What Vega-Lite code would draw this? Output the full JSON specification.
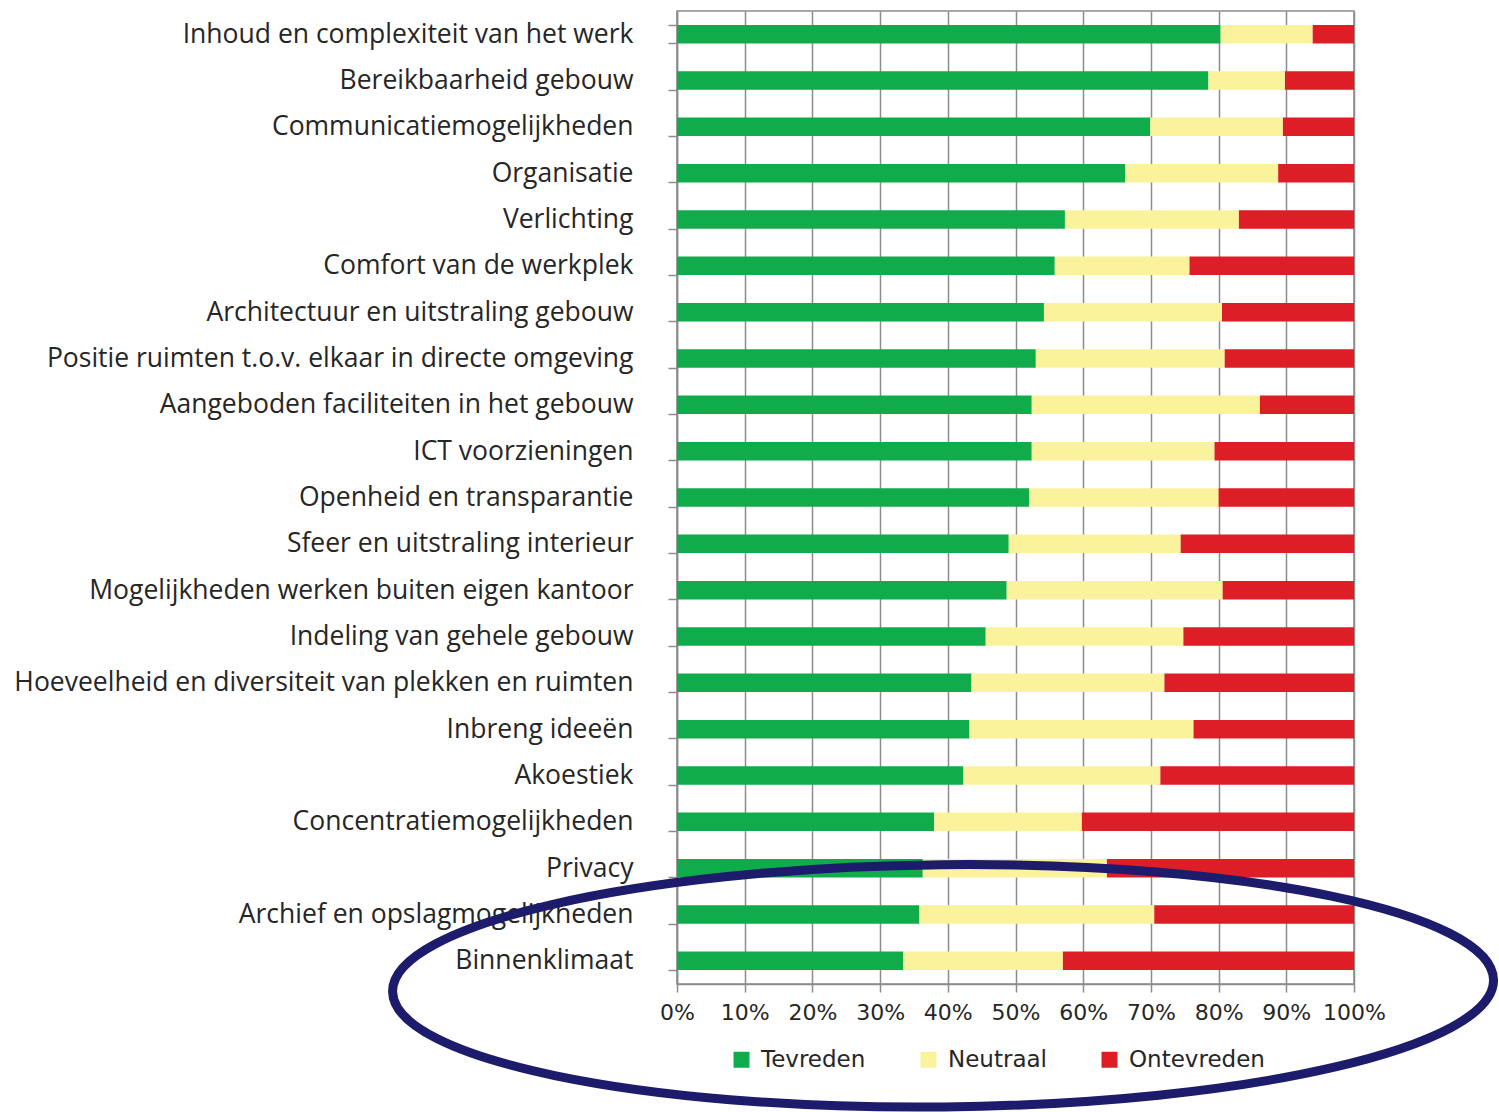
{
  "$schema": "https://vega.github.io/schema/vega-lite/v6.json",
  "width": 677,
  "height": 973,
  "autosize": {"type": "none"},
  "padding": {"left": 677, "top": 11, "right": 145, "bottom": 128},
  "background": "#ffffff",
  "config": {
    "view": {"stroke": "#8c8c8c", "strokeWidth": 1.5},
    "font": "DejaVu Sans"
  },
  "datasets": {
    "tevredenheid": [
      {"aspect": "Inhoud en complexiteit van het werk", "oordeel": "Tevreden", "rang": 1, "aandeel": 80.3},
      {"aspect": "Inhoud en complexiteit van het werk", "oordeel": "Neutraal", "rang": 2, "aandeel": 13.6},
      {"aspect": "Inhoud en complexiteit van het werk", "oordeel": "Ontevreden", "rang": 3, "aandeel": 6.1},
      {"aspect": "Bereikbaarheid gebouw", "oordeel": "Tevreden", "rang": 1, "aandeel": 78.5},
      {"aspect": "Bereikbaarheid gebouw", "oordeel": "Neutraal", "rang": 2, "aandeel": 11.3},
      {"aspect": "Bereikbaarheid gebouw", "oordeel": "Ontevreden", "rang": 3, "aandeel": 10.2},
      {"aspect": "Communicatiemogelijkheden", "oordeel": "Tevreden", "rang": 1, "aandeel": 69.9},
      {"aspect": "Communicatiemogelijkheden", "oordeel": "Neutraal", "rang": 2, "aandeel": 19.6},
      {"aspect": "Communicatiemogelijkheden", "oordeel": "Ontevreden", "rang": 3, "aandeel": 10.5},
      {"aspect": "Organisatie", "oordeel": "Tevreden", "rang": 1, "aandeel": 66.2},
      {"aspect": "Organisatie", "oordeel": "Neutraal", "rang": 2, "aandeel": 22.6},
      {"aspect": "Organisatie", "oordeel": "Ontevreden", "rang": 3, "aandeel": 11.2},
      {"aspect": "Verlichting", "oordeel": "Tevreden", "rang": 1, "aandeel": 57.3},
      {"aspect": "Verlichting", "oordeel": "Neutraal", "rang": 2, "aandeel": 25.7},
      {"aspect": "Verlichting", "oordeel": "Ontevreden", "rang": 3, "aandeel": 17.0},
      {"aspect": "Comfort van de werkplek", "oordeel": "Tevreden", "rang": 1, "aandeel": 55.8},
      {"aspect": "Comfort van de werkplek", "oordeel": "Neutraal", "rang": 2, "aandeel": 19.9},
      {"aspect": "Comfort van de werkplek", "oordeel": "Ontevreden", "rang": 3, "aandeel": 24.3},
      {"aspect": "Architectuur en uitstraling gebouw", "oordeel": "Tevreden", "rang": 1, "aandeel": 54.2},
      {"aspect": "Architectuur en uitstraling gebouw", "oordeel": "Neutraal", "rang": 2, "aandeel": 26.3},
      {"aspect": "Architectuur en uitstraling gebouw", "oordeel": "Ontevreden", "rang": 3, "aandeel": 19.5},
      {"aspect": "Positie ruimten t.o.v. elkaar in directe omgeving", "oordeel": "Tevreden", "rang": 1, "aandeel": 53.0},
      {"aspect": "Positie ruimten t.o.v. elkaar in directe omgeving", "oordeel": "Neutraal", "rang": 2, "aandeel": 27.9},
      {"aspect": "Positie ruimten t.o.v. elkaar in directe omgeving", "oordeel": "Ontevreden", "rang": 3, "aandeel": 19.1},
      {"aspect": "Aangeboden faciliteiten in het gebouw", "oordeel": "Tevreden", "rang": 1, "aandeel": 52.4},
      {"aspect": "Aangeboden faciliteiten in het gebouw", "oordeel": "Neutraal", "rang": 2, "aandeel": 33.7},
      {"aspect": "Aangeboden faciliteiten in het gebouw", "oordeel": "Ontevreden", "rang": 3, "aandeel": 13.9},
      {"aspect": "ICT voorzieningen", "oordeel": "Tevreden", "rang": 1, "aandeel": 52.4},
      {"aspect": "ICT voorzieningen", "oordeel": "Neutraal", "rang": 2, "aandeel": 27.0},
      {"aspect": "ICT voorzieningen", "oordeel": "Ontevreden", "rang": 3, "aandeel": 20.6},
      {"aspect": "Openheid en transparantie", "oordeel": "Tevreden", "rang": 1, "aandeel": 52.0},
      {"aspect": "Openheid en transparantie", "oordeel": "Neutraal", "rang": 2, "aandeel": 28.0},
      {"aspect": "Openheid en transparantie", "oordeel": "Ontevreden", "rang": 3, "aandeel": 20.0},
      {"aspect": "Sfeer en uitstraling interieur", "oordeel": "Tevreden", "rang": 1, "aandeel": 49.0},
      {"aspect": "Sfeer en uitstraling interieur", "oordeel": "Neutraal", "rang": 2, "aandeel": 25.4},
      {"aspect": "Sfeer en uitstraling interieur", "oordeel": "Ontevreden", "rang": 3, "aandeel": 25.6},
      {"aspect": "Mogelijkheden werken buiten eigen kantoor", "oordeel": "Tevreden", "rang": 1, "aandeel": 48.7},
      {"aspect": "Mogelijkheden werken buiten eigen kantoor", "oordeel": "Neutraal", "rang": 2, "aandeel": 31.9},
      {"aspect": "Mogelijkheden werken buiten eigen kantoor", "oordeel": "Ontevreden", "rang": 3, "aandeel": 19.4},
      {"aspect": "Indeling van gehele gebouw", "oordeel": "Tevreden", "rang": 1, "aandeel": 45.6},
      {"aspect": "Indeling van gehele gebouw", "oordeel": "Neutraal", "rang": 2, "aandeel": 29.2},
      {"aspect": "Indeling van gehele gebouw", "oordeel": "Ontevreden", "rang": 3, "aandeel": 25.2},
      {"aspect": "Hoeveelheid en diversiteit van plekken en ruimten", "oordeel": "Tevreden", "rang": 1, "aandeel": 43.5},
      {"aspect": "Hoeveelheid en diversiteit van plekken en ruimten", "oordeel": "Neutraal", "rang": 2, "aandeel": 28.5},
      {"aspect": "Hoeveelheid en diversiteit van plekken en ruimten", "oordeel": "Ontevreden", "rang": 3, "aandeel": 28.0},
      {"aspect": "Inbreng ideeën", "oordeel": "Tevreden", "rang": 1, "aandeel": 43.2},
      {"aspect": "Inbreng ideeën", "oordeel": "Neutraal", "rang": 2, "aandeel": 33.1},
      {"aspect": "Inbreng ideeën", "oordeel": "Ontevreden", "rang": 3, "aandeel": 23.7},
      {"aspect": "Akoestiek", "oordeel": "Tevreden", "rang": 1, "aandeel": 42.3},
      {"aspect": "Akoestiek", "oordeel": "Neutraal", "rang": 2, "aandeel": 29.1},
      {"aspect": "Akoestiek", "oordeel": "Ontevreden", "rang": 3, "aandeel": 28.6},
      {"aspect": "Concentratiemogelijkheden", "oordeel": "Tevreden", "rang": 1, "aandeel": 38.0},
      {"aspect": "Concentratiemogelijkheden", "oordeel": "Neutraal", "rang": 2, "aandeel": 21.8},
      {"aspect": "Concentratiemogelijkheden", "oordeel": "Ontevreden", "rang": 3, "aandeel": 40.2},
      {"aspect": "Privacy", "oordeel": "Tevreden", "rang": 1, "aandeel": 36.3},
      {"aspect": "Privacy", "oordeel": "Neutraal", "rang": 2, "aandeel": 27.2},
      {"aspect": "Privacy", "oordeel": "Ontevreden", "rang": 3, "aandeel": 36.5},
      {"aspect": "Archief en opslagmogelijkheden", "oordeel": "Tevreden", "rang": 1, "aandeel": 35.8},
      {"aspect": "Archief en opslagmogelijkheden", "oordeel": "Neutraal", "rang": 2, "aandeel": 34.7},
      {"aspect": "Archief en opslagmogelijkheden", "oordeel": "Ontevreden", "rang": 3, "aandeel": 29.5},
      {"aspect": "Binnenklimaat", "oordeel": "Tevreden", "rang": 1, "aandeel": 33.4},
      {"aspect": "Binnenklimaat", "oordeel": "Neutraal", "rang": 2, "aandeel": 23.6},
      {"aspect": "Binnenklimaat", "oordeel": "Ontevreden", "rang": 3, "aandeel": 43.0}
    ],
    "markering": [
      {"aspect": "Binnenklimaat", "midden": 0.393}
    ]
  },
  "encoding": {
    "y": {
      "field": "aspect",
      "type": "nominal",
      "scale": {
        "domain": [
          "Inhoud en complexiteit van het werk",
          "Bereikbaarheid gebouw",
          "Communicatiemogelijkheden",
          "Organisatie",
          "Verlichting",
          "Comfort van de werkplek",
          "Architectuur en uitstraling gebouw",
          "Positie ruimten t.o.v. elkaar in directe omgeving",
          "Aangeboden faciliteiten in het gebouw",
          "ICT voorzieningen",
          "Openheid en transparantie",
          "Sfeer en uitstraling interieur",
          "Mogelijkheden werken buiten eigen kantoor",
          "Indeling van gehele gebouw",
          "Hoeveelheid en diversiteit van plekken en ruimten",
          "Inbreng ideeën",
          "Akoestiek",
          "Concentratiemogelijkheden",
          "Privacy",
          "Archief en opslagmogelijkheden",
          "Binnenklimaat"
        ],
        "paddingInner": 0.6,
        "paddingOuter": 0.3
      },
      "axis": {
        "title": null,
        "domainColor": "#8c8c8c",
        "domainWidth": 1.5,
        "tickBand": "extent",
        "tickColor": "#8c8c8c",
        "tickWidth": 1.5,
        "tickSize": 9,
        "labelPadding": 35,
        "labelFont": "Open Sans",
        "labelFontSize": 26.5,
        "labelColor": "#262626",
        "labelLimit": 800,
        "grid": false
      }
    }
  },
  "layer": [
    {
      "data": {"name": "tevredenheid"},
      "mark": {"type": "bar"},
      "encoding": {
        "x": {
          "field": "aandeel",
          "type": "quantitative",
          "stack": "normalize",
          "scale": {"domain": [0, 1], "nice": false},
          "axis": {
            "title": null,
            "format": ".0%",
            "values": [0, 0.1, 0.2, 0.3, 0.4, 0.5, 0.6, 0.7, 0.8, 0.9, 1],
            "grid": true,
            "gridColor": "#8c8c8c",
            "gridWidth": 1.5,
            "domainColor": "#8c8c8c",
            "domainWidth": 1.5,
            "tickColor": "#8c8c8c",
            "tickWidth": 1.5,
            "tickSize": 8,
            "labelPadding": 10,
            "labelFontSize": 22,
            "labelColor": "#262626",
            "labelFlush": false
          }
        },
        "order": {"field": "rang", "type": "quantitative"},
        "color": {
          "field": "oordeel",
          "type": "nominal",
          "scale": {
            "domain": ["Tevreden", "Neutraal", "Ontevreden"],
            "range": ["#10ab4b", "#fbf29c", "#de1e26"]
          },
          "legend": {
            "title": null,
            "orient": "none",
            "direction": "horizontal",
            "legendX": 53,
            "legendY": 1037,
            "symbolType": "square",
            "symbolSize": 256,
            "symbolStrokeWidth": 0,
            "symbolOpacity": 1,
            "labelFontSize": 23,
            "labelColor": "#262626",
            "labelOffset": 8,
            "columnPadding": 51
          }
        }
      }
    },
    {
      "data": {"name": "markering"},
      "mark": {
        "type": "point",
        "shape": "M-1,0A1,0.22,0,1,1,1,0A1,0.22,0,1,1,-1,0Z",
        "size": 1212201,
        "filled": false,
        "stroke": "#1d1b6b",
        "strokeWidth": 9,
        "opacity": 1,
        "angle": -0.6,
        "yOffset": 25
      },
      "encoding": {
        "x": {"field": "midden", "type": "quantitative"}
      }
    }
  ]
}
